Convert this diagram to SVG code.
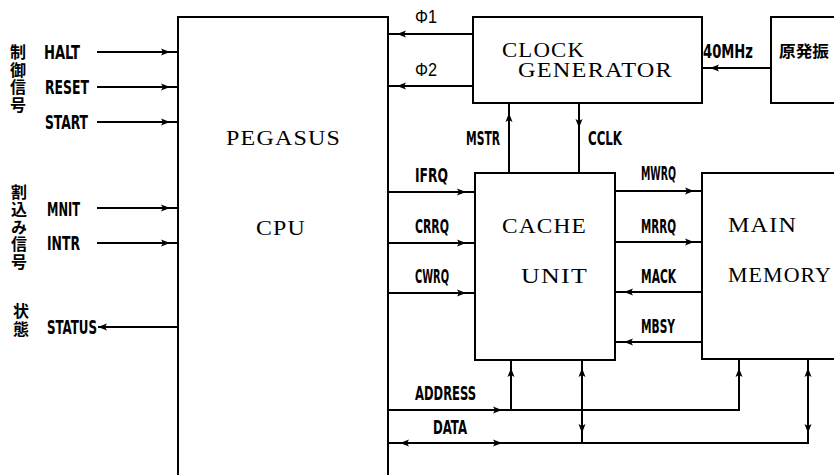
<svg xmlns="http://www.w3.org/2000/svg" xmlns:xlink="http://www.w3.org/1999/xlink" width="834" height="475" viewBox="0 0 834 475">
<style>
.box{fill:#fff;stroke:#000;stroke-width:2}
.ln{fill:none;stroke:#000;stroke-width:2}
.lb{font-family:"DejaVu Sans Condensed","Liberation Sans",sans-serif;font-weight:bold;font-size:19px;fill:#000}
.sf{font-family:"Liberation Serif",serif;font-size:20px;fill:#000;letter-spacing:1px}
.jp{font-family:"Noto Sans CJK JP",sans-serif;font-weight:bold;font-size:16px;fill:#000}
.jv{writing-mode:vertical-rl;text-orientation:upright}
.ph{font-family:"Liberation Sans",sans-serif;font-size:18px;fill:#000}
</style>
<defs>
<path id="ah" d="M0,0 L-9,-3.5 L-7,0 L-9,3.5 Z" fill="#000"/>
</defs>
<rect width="834" height="475" fill="#fff"/>

<g id="labels-left">
<text class="jp jv" x="18" y="44" letter-spacing="1.5">制御信号</text>
<text class="jp jv" x="19" y="184" letter-spacing="1.4">割込み信号</text>
<text class="jp jv" x="21" y="303" letter-spacing="1.5">状態</text>
</g>

<g id="cpu">
<rect class="box" x="178" y="17" width="210" height="480"/>
<text class="sf" x="226" y="145" textLength="115" lengthAdjust="spacingAndGlyphs">PEGASUS</text>
<text class="sf" x="256" y="235" textLength="50" lengthAdjust="spacingAndGlyphs">CPU</text>
</g>

<g id="clock">
<rect class="box" x="473" y="17" width="229" height="86"/>
<text class="sf" x="502" y="57" font-size="18" textLength="83" lengthAdjust="spacingAndGlyphs">CLOCK</text>
<text class="sf" x="518" y="77" font-size="18" textLength="155" lengthAdjust="spacingAndGlyphs">GENERATOR</text>
</g>

<g id="osc">
<rect class="box" x="771" y="17" width="80" height="86"/>
<text class="jp" x="779" y="57" font-size="17" textLength="50" lengthAdjust="spacingAndGlyphs">原発振</text>
</g>

<g id="cache">
<rect class="box" x="475" y="173" width="140" height="187"/>
<text class="sf" x="502" y="233" textLength="85" lengthAdjust="spacingAndGlyphs">CACHE</text>
<text class="sf" x="521" y="283" textLength="67" lengthAdjust="spacingAndGlyphs">UNIT</text>
</g>

<g id="memory">
<rect class="box" x="702" y="173" width="150" height="186"/>
<text class="sf" x="728" y="232" textLength="69" lengthAdjust="spacingAndGlyphs">MAIN</text>
<text class="sf" x="728" y="282" textLength="104" lengthAdjust="spacingAndGlyphs">MEMORY</text>
</g>

<g id="connectors">
<path class="ln" d="M97,52H178 M97,87H178 M97,122H178 M97,208H178 M97,243H178 M98,327H178"/>
<path class="ln" d="M388,34H473 M388,86H473 M702,68H771"/>
<path class="ln" d="M509,103V173 M579,103V173"/>
<path class="ln" d="M388,192H475 M388,243H475 M388,293H475"/>
<path class="ln" d="M615,191H702 M615,242H702 M615,292H702 M615,342H702"/>
<path class="ln" d="M388,410H739V359 M511,410V360 M388,443H808V359 M582,360V443"/>
<use xlink:href="#ah" transform="translate(170,52)"/>
<use xlink:href="#ah" transform="translate(170,87)"/>
<use xlink:href="#ah" transform="translate(170,122)"/>
<use xlink:href="#ah" transform="translate(170,208)"/>
<use xlink:href="#ah" transform="translate(170,243)"/>
<use xlink:href="#ah" transform="translate(98,327) rotate(180)"/>
<use xlink:href="#ah" transform="translate(397,34) rotate(180)"/>
<use xlink:href="#ah" transform="translate(397,86) rotate(180)"/>
<use xlink:href="#ah" transform="translate(710,68) rotate(180)"/>
<use xlink:href="#ah" transform="translate(509,113) rotate(-90)"/>
<use xlink:href="#ah" transform="translate(579,128) rotate(90)"/>
<use xlink:href="#ah" transform="translate(466,192)"/>
<use xlink:href="#ah" transform="translate(466,243)"/>
<use xlink:href="#ah" transform="translate(466,293)"/>
<use xlink:href="#ah" transform="translate(694,191)"/>
<use xlink:href="#ah" transform="translate(694,242)"/>
<use xlink:href="#ah" transform="translate(624,292) rotate(180)"/>
<use xlink:href="#ah" transform="translate(624,342) rotate(180)"/>
<use xlink:href="#ah" transform="translate(502,410)"/>
<use xlink:href="#ah" transform="translate(511,368) rotate(-90)"/>
<use xlink:href="#ah" transform="translate(739,368) rotate(-90)"/>
<use xlink:href="#ah" transform="translate(400,443) rotate(180)"/>
<use xlink:href="#ah" transform="translate(502,443)"/>
<use xlink:href="#ah" transform="translate(582,368) rotate(-90)"/>
<use xlink:href="#ah" transform="translate(582,433) rotate(90)"/>
<use xlink:href="#ah" transform="translate(808,368) rotate(-90)"/>
<use xlink:href="#ah" transform="translate(808,433) rotate(90)"/>
</g>

<g id="connector-labels">
<text class="lb" x="44" y="59" textLength="36" lengthAdjust="spacingAndGlyphs">HALT</text>
<text class="lb" x="45" y="94" textLength="44" lengthAdjust="spacingAndGlyphs">RESET</text>
<text class="lb" x="45" y="129" textLength="43" lengthAdjust="spacingAndGlyphs">START</text>
<text class="lb" x="47" y="216" textLength="33" lengthAdjust="spacingAndGlyphs">MNIT</text>
<text class="lb" x="47" y="250" textLength="33" lengthAdjust="spacingAndGlyphs">INTR</text>
<text class="lb" x="47" y="334" textLength="50" lengthAdjust="spacingAndGlyphs">STATUS</text>
<text class="ph" x="415" y="23" textLength="22" lengthAdjust="spacingAndGlyphs">Φ1</text>
<text class="ph" x="415" y="76" textLength="22" lengthAdjust="spacingAndGlyphs">Φ2</text>
<text class="lb" x="703" y="58" textLength="50" lengthAdjust="spacingAndGlyphs">40MHz</text>
<text class="lb" x="466" y="145" textLength="34" lengthAdjust="spacingAndGlyphs">MSTR</text>
<text class="lb" x="588" y="145" textLength="34" lengthAdjust="spacingAndGlyphs">CCLK</text>
<text class="lb" x="415" y="182" textLength="33" lengthAdjust="spacingAndGlyphs">IFRQ</text>
<text class="lb" x="415" y="233" textLength="34" lengthAdjust="spacingAndGlyphs">CRRQ</text>
<text class="lb" x="415" y="283" textLength="34" lengthAdjust="spacingAndGlyphs">CWRQ</text>
<text class="lb" x="641" y="180" textLength="35" lengthAdjust="spacingAndGlyphs">MWRQ</text>
<text class="lb" x="641" y="233" textLength="35" lengthAdjust="spacingAndGlyphs">MRRQ</text>
<text class="lb" x="641" y="283" textLength="35" lengthAdjust="spacingAndGlyphs">MACK</text>
<text class="lb" x="641" y="333" textLength="34" lengthAdjust="spacingAndGlyphs">MBSY</text>
<text class="lb" x="415" y="400" textLength="61" lengthAdjust="spacingAndGlyphs">ADDRESS</text>
<text class="lb" x="433" y="434" textLength="34" lengthAdjust="spacingAndGlyphs">DATA</text>
</g>
</svg>
